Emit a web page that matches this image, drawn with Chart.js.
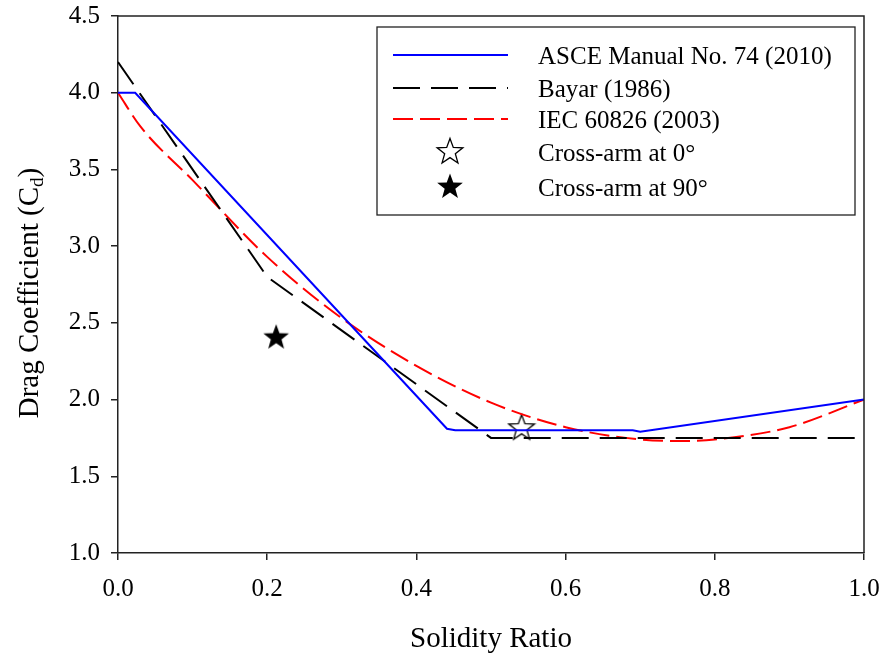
<!DOCTYPE html>
<html>
<head>
<meta charset="utf-8">
<script src="https://cdn.jsdelivr.net/npm/chart.js@4/dist/chart.umd.min.js"></script>
<style>
body{margin:0;background:#fff}
</style>
</head>
<body>
<canvas id="c" width="884" height="654"></canvas>
<script>
// solidity ratio / drag coefficient
const asceX = [0, 0.023, 0.441, 0.452, 0.69, 0.70, 1.0]
const asceY = [4.0, 4.0, 1.81, 1.80, 1.80, 1.79, 2.0]

const bayarX = [0, 0.2, 0.5, 1.0]
const bayarY = [4.2, 2.8, 1.75, 1.75]

const iecX = [0, 0.03, 0.1, 0.2, 0.3, 0.4, 0.5, 0.6, 0.7, 0.75, 0.8, 0.9, 1.0]
const iecY = [4.0, 3.78, 3.43, 2.93, 2.53, 2.22, 1.98, 1.82, 1.74, 1.73, 1.74, 1.82, 2.0]

const arm0X = [0.541]
const arm0Y = [1.82]
const arm90X = [0.212]
const arm90Y = [2.41]

const labels = ['ASCE Manual No. 74 (2010)', 'Bayar (1986)', 'IEC 60826 (2003)', 'Cross-arm at 0\u00b0', 'Cross-arm at 90\u00b0']
const yTicks = [1.0, 1.5, 2.0, 2.5, 3.0, 3.5, 4.0, 4.5]
const xTicks = [0.0, 0.2, 0.4, 0.6, 0.8, 1.0]

const serif = "'Liberation Serif', 'Times New Roman', serif"

function toPoints(xs, ys){
    return xs.map((x, i) => ({x: x, y: ys[i]}))
}

function makeStar(filled){
    let cv = document.createElement('canvas')
    cv.width = 30
    cv.height = 30
    let g = cv.getContext('2d')
    g.beginPath()
    for(let i = 0; i < 10; i++){
        let r = i % 2 == 0 ? 13.5 : 5.6
        let a = -Math.PI / 2 + i * Math.PI / 5
        let px = 15 + r * Math.cos(a)
        let py = 16 + r * Math.sin(a)
        if(i == 0) g.moveTo(px, py)
        else g.lineTo(px, py)
    }
    g.closePath()
    if(filled){
        g.fillStyle = '#000'
        g.fill()
    }
    else{
        g.fillStyle = '#fff'
        g.fill()
        g.lineWidth = 1.3
        g.strokeStyle = '#000'
        g.stroke()
    }
    return cv
}

const openStar = makeStar(false)
const fullStar = makeStar(true)

const framePlugin = {
    id: 'frame',
    afterDraw(chart){
        let ctx = chart.ctx
        let a = chart.chartArea
        ctx.save()
        // top and right border
        ctx.strokeStyle = '#222'
        ctx.lineWidth = 1.5
        ctx.beginPath()
        ctx.moveTo(a.left, a.top)
        ctx.lineTo(a.right, a.top)
        ctx.lineTo(a.right, a.bottom)
        ctx.stroke()

        // axis titles
        ctx.fillStyle = '#000'
        ctx.font = '29px ' + serif
        ctx.textAlign = 'center'
        ctx.textBaseline = 'alphabetic'
        ctx.fillText('Solidity Ratio', (a.left + a.right) / 2, 647)

        ctx.translate(38, 293)
        ctx.rotate(-Math.PI / 2)
        let main = 'Drag Coefficient (C'
        let sub = 'd'
        let end = ')'
        ctx.font = '29px ' + serif
        let w1 = ctx.measureText(main).width
        let w3 = ctx.measureText(end).width
        ctx.font = '19px ' + serif
        let w2 = ctx.measureText(sub).width
        let x0 = -(w1 + w2 + w3) / 2
        ctx.textAlign = 'left'
        ctx.font = '29px ' + serif
        ctx.fillText(main, x0, 0)
        ctx.font = '19px ' + serif
        ctx.fillText(sub, x0 + w1, 5)
        ctx.font = '29px ' + serif
        ctx.fillText(end, x0 + w1 + w2, 0)
        ctx.restore()

        // legend box
        ctx.save()
        ctx.fillStyle = '#fff'
        ctx.fillRect(377, 27, 478, 188)
        ctx.strokeStyle = '#222'
        ctx.lineWidth = 1.3
        ctx.strokeRect(377, 27, 478, 188)
        let rows = [55, 88, 119, 152, 187]
        chart.data.datasets.forEach((ds, i) => {
            let y = rows[i]
            if(ds.showLine){
                ctx.strokeStyle = ds.borderColor
                ctx.lineWidth = ds.borderWidth
                ctx.setLineDash(ds.borderDash || [])
                ctx.beginPath()
                ctx.moveTo(393, y)
                ctx.lineTo(508, y)
                ctx.stroke()
                ctx.setLineDash([])
            }
            else{
                ctx.drawImage(ds.pointStyle, 450 - 15, y - 16)
            }
            ctx.fillStyle = '#000'
            ctx.font = '25px ' + serif
            ctx.textAlign = 'left'
            ctx.textBaseline = 'middle'
            ctx.fillText(ds.label, 538, y + 2)
        })
        ctx.restore()
    }
}

const ctx = document.getElementById('c').getContext('2d')
const chart = new Chart(ctx, {
    type: 'scatter',
    data: {
        datasets: [{
            label: labels[0],
            data: toPoints(asceX, asceY),
            showLine: true,
            borderColor: '#0000ff',
            borderWidth: 2,
            pointRadius: 0,
            fill: false
        }, {
            label: labels[1],
            data: toPoints(bayarX, bayarY),
            showLine: true,
            borderColor: '#000000',
            borderWidth: 2,
            borderDash: [27, 11],
            pointRadius: 0,
            fill: false
        }, {
            label: labels[2],
            data: toPoints(iecX, iecY),
            showLine: true,
            borderColor: '#ff0000',
            borderWidth: 2,
            borderDash: [20, 7],
            cubicInterpolationMode: 'monotone',
            pointRadius: 0,
            fill: false
        }, {
            label: labels[3],
            data: toPoints(arm0X, arm0Y),
            showLine: false,
            pointStyle: openStar,
            pointRadius: 13
        }, {
            label: labels[4],
            data: toPoints(arm90X, arm90Y),
            showLine: false,
            pointStyle: fullStar,
            pointRadius: 13
        }]
    },
    options: {
        responsive: false,
        animation: false,
        events: [],
        layout: {padding: {left: 0, right: 20, top: 16, bottom: 0}},
        plugins: {
            legend: {display: false},
            tooltip: {enabled: false}
        },
        scales: {
            x: {
                type: 'linear',
                min: 0,
                max: 1,
                afterFit(scale){
                    scale.height = 101
                    scale.paddingLeft = 0
                    scale.paddingRight = 0
                },
                afterBuildTicks(scale){ scale.ticks = xTicks.map(v => ({value: v})) },
                ticks: {
                    callback: v => v.toFixed(1),
                    color: '#000',
                    font: {family: serif, size: 25},
                    padding: 14,
                    maxRotation: 0
                },
                grid: {drawOnChartArea: false, tickLength: 7, color: '#222', lineWidth: 1.5},
                border: {color: '#222', width: 1.5}
            },
            y: {
                type: 'linear',
                min: 1,
                max: 4.5,
                afterFit(scale){
                    scale.width = 118
                    scale.paddingTop = 0
                    scale.paddingBottom = 0
                },
                afterBuildTicks(scale){ scale.ticks = yTicks.map(v => ({value: v})) },
                ticks: {
                    callback: v => v.toFixed(1),
                    color: '#000',
                    font: {family: serif, size: 25},
                    padding: 11
                },
                grid: {drawOnChartArea: false, tickLength: 7, color: '#222', lineWidth: 1.5},
                border: {color: '#222', width: 1.5}
            }
        }
    },
    plugins: [framePlugin]
})
</script>
</body>
</html>
